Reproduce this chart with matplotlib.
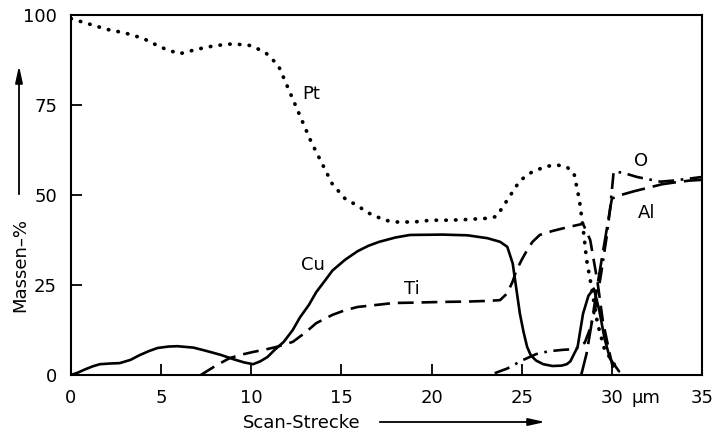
import matplotlib
matplotlib.use("Agg")
from matplotlib import pyplot as plt

plt.rcParams['font.family'] = ['DejaVu Sans']

# Pt (dotted)
pt_x = [0, 1, 2, 3, 4, 5, 6, 7, 8, 9, 10, 10.8, 11.5, 12.1, 12.7, 13.3, 14, 14.5,
        15.2, 15.9, 16.5, 17.4, 18, 19, 20, 21, 22, 23, 23.6, 24.2, 24.9, 25.6,
        26.4, 27, 27.5, 27.9, 28.2, 28.4, 28.6, 28.9, 29.2, 29.6, 30.1, 30.3]
pt_y = [99, 97.5, 96, 95, 93.5, 91, 89.2, 90.5, 91.5, 92, 91.5, 89.5, 86, 79, 72,
        65, 58, 53, 49, 47, 45, 43, 42.5, 42.5, 43, 43, 43.2, 43.5, 44, 48.6, 54,
        56.5, 58, 58.3, 57.8, 56, 48.6, 41, 32, 23.6, 14.4, 7, 3.3, 1]

# Cu (solid)
cu_x = [0, 0.4, 0.8, 1.2, 1.6, 2.2, 2.7, 3.3, 3.8, 4.3, 4.8, 5.4, 5.9, 6.8, 7.5,
        8.3, 9, 9.6, 10.1, 10.5, 10.9, 11.3, 11.8, 12.3, 12.7, 13.2, 13.6, 14.1,
        14.5, 15.2, 15.9, 16.5, 17.1, 18, 18.8, 20.6, 22, 23.1, 23.8, 24.2, 24.5,
        24.7, 24.9, 25.1, 25.3, 25.5, 25.8, 26.2, 26.7, 27.2, 27.5, 27.7, 28.1,
        28.4, 28.7, 29, 29.3, 29.6, 29.9, 30.4]
cu_y = [0, 0.7, 1.6, 2.4, 3, 3.2, 3.3, 4.2, 5.5, 6.6, 7.5, 7.9, 8, 7.6, 6.7, 5.6,
        4.4, 3.5, 3, 3.8, 5, 7, 9.2, 12.5, 16, 19.5, 23, 26.3, 29, 32, 34.4, 35.9,
        37, 38.2, 38.9, 39, 38.8, 38, 37, 35.6, 31, 24, 17, 12, 7.8, 5.5, 4, 3,
        2.5, 2.6, 3, 3.8, 7.8, 17, 22, 24, 18, 10, 4.5, 1]

# Ti (dashed)
ti_x = [7.2, 8, 8.8, 9.5, 10.1, 10.8, 11.4, 12.3, 13, 13.6, 14.5, 15.2, 15.9, 17,
        17.9, 19, 20.6, 22, 23.2, 23.8, 24.2, 24.5, 24.7, 25, 25.3, 25.6, 26, 26.7,
        27.5, 28.4, 28.8, 29.2, 29.5, 29.9, 30.1]
ti_y = [0, 2.5, 4.7, 5.7, 6.4, 7.1, 7.8, 9.2, 11.8, 14.4, 16.7, 18, 18.9, 19.5,
        20, 20.1, 20.3, 20.4, 20.6, 20.8, 22.7, 26, 29, 32, 34.7, 37, 38.9, 40, 41,
        42, 37.5, 26, 15, 5.5, 1]

# O (dash-dot)
o_x = [23.5, 24.2, 25, 25.8, 26.5, 27.3, 28, 28.5, 28.8, 29.1, 29.4, 29.7, 29.9,
       30.1, 30.6, 31.4, 32.2, 32.7, 33.4, 34.2, 35]
o_y = [0.5, 1.8, 4, 5.8, 6.6, 7, 7.2, 9, 13, 19, 28, 38, 46, 56.5, 56.2, 55, 54.2,
       53.7, 54, 54.5, 55]

# Al (long dashes)
al_x = [28.3, 28.6, 28.9, 29.2, 29.5, 29.8, 30.0, 30.5, 31.2, 32, 32.8, 33.5, 34.3, 35]
al_y = [0, 6, 15, 25, 34, 43, 49, 50, 51, 52, 53, 53.5, 54, 54.2]

x_ticks = [0, 5, 10, 15, 20, 25, 30, 35]
y_ticks = [0, 25, 50, 75, 100]

fig = plt.figure(figsize=(7.14, 4.38), dpi=100)
ax = fig.add_axes([71 / 714, 1 - 375 / 438, 631 / 714, 360 / 438])

lw = 1.9
ax.plot(pt_x, pt_y, color='black', lw=2.7, linestyle=(0, (0.1, 2.5)),
        dash_capstyle='round')
ax.plot(cu_x, cu_y, color='black', lw=lw, solid_capstyle='round',
        solid_joinstyle='round')
ax.plot(ti_x, ti_y, color='black', lw=lw, linestyle=(0, (6, 3)))
ax.plot(o_x, o_y, color='black', lw=lw, linestyle=(0, (6, 2.5, 1, 2.5)))
ax.plot(al_x, al_y, color='black', lw=lw, linestyle=(0, (9, 3)))

fs = 13
ax.text(13.3, 78, 'Pt', fontsize=fs, ha='center', va='center')
ax.text(13.4, 30.5, 'Cu', fontsize=fs, ha='center', va='center')
ax.text(18.9, 24, 'Ti', fontsize=fs, ha='center', va='center')
ax.text(31.6, 59.5, 'O', fontsize=fs, ha='center', va='center')
ax.text(31.9, 45, 'Al', fontsize=fs, ha='center', va='center')

ax.set_xlim(0, 35)
ax.set_ylim(0, 100)
ax.set_xticks(x_ticks)
ax.set_yticks(y_ticks)
ax.tick_params(direction='in', length=8, width=1.3, labelsize=fs)
ax.tick_params(axis='x', pad=10)
ax.tick_params(axis='y', pad=10)
for s in ax.spines.values():
    s.set_linewidth(1.5)

ax.annotate('µm', xy=(31.9, 0), xycoords='data', xytext=(0, -10),
            textcoords='offset points', ha='center', va='top', fontsize=fs)

# axis labels with arrows
fig.text(20 / 714, 1 - 265 / 438, 'Massen–%', rotation=90, ha='center',
         va='center', fontsize=fs)
fig.text(302 / 714, 1 - 423 / 438, 'Scan-Strecke', ha='center', va='center',
         fontsize=fs)
arrow = dict(arrowstyle='-|>,head_length=1.0,head_width=0.22', color='black', lw=1.3)
ax.annotate('', xy=(19 / 714, 1 - 63 / 438), xytext=(19 / 714, 1 - 197 / 438),
            xycoords='figure fraction', textcoords='figure fraction',
            arrowprops=arrow, annotation_clip=False)
ax.annotate('', xy=(548 / 714, 1 - 422 / 438), xytext=(377 / 714, 1 - 422 / 438),
            xycoords='figure fraction', textcoords='figure fraction',
            arrowprops=arrow, annotation_clip=False)

fig.savefig('out.png', dpi=100)
